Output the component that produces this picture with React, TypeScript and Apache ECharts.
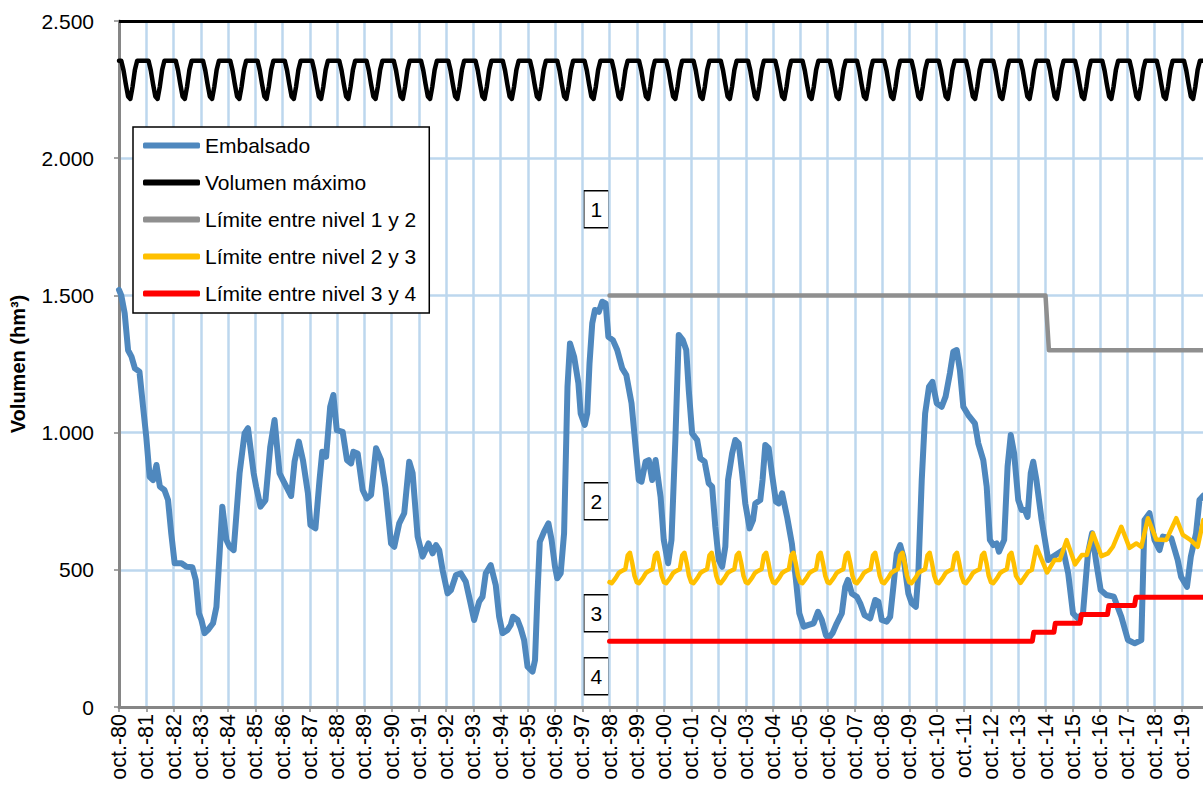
import React, { useEffect, useRef } from 'react';
import * as echarts from 'echarts';

const FONT = 'Arial, "Liberation Sans", sans-serif';

// ---------- DATA ----------
const seriesNames = [
  'Embalsado',
  'Volumen máximo',
  'Límite entre nivel 1 y 2',
  'Límite entre nivel 2 y 3',
  'Límite entre nivel 3 y 4',
];
const seriesColors = ['#4F88BE', '#000000', '#8F8F8F', '#FFC000', '#FF0000'];

// x = months since oct.-80
const totalMonths = 480;
const xTickLabels = [
  'oct.-80', 'oct.-81', 'oct.-82', 'oct.-83', 'oct.-84', 'oct.-85', 'oct.-86', 'oct.-87', 'oct.-88', 'oct.-89',
  'oct.-90', 'oct.-91', 'oct.-92', 'oct.-93', 'oct.-94', 'oct.-95', 'oct.-96', 'oct.-97', 'oct.-98', 'oct.-99',
  'oct.-00', 'oct.-01', 'oct.-02', 'oct.-03', 'oct.-04', 'oct.-05', 'oct.-06', 'oct.-07', 'oct.-08', 'oct.-09',
  'oct.-10', 'oct.-11', 'oct.-12', 'oct.-13', 'oct.-14', 'oct.-15', 'oct.-16', 'oct.-17', 'oct.-18', 'oct.-19',
];
const yTickLabels: Record<number, string> = { 0: '0', 500: '500', 1000: '1.000', 1500: '1.500', 2000: '2.000', 2500: '2.500' };
const yAxisTitle = 'Volumen (hm³)';

// Embalsado: [month index, hm3]
const embalsado: [number, number][] = [
  [0, 1520], [1, 1500], [2.5, 1435], [4, 1300], [5.5, 1277], [7, 1234], [9, 1222], [10.6, 1094], [12, 985],
  [13.5, 839], [15, 827], [16.5, 882], [18, 803], [20, 791], [21.6, 754], [23, 633], [24.5, 524], [27.5, 524],
  [29.7, 511], [32.3, 509], [33.8, 463], [35.2, 341], [36.3, 317], [37.7, 269], [39.2, 281], [41.4, 305],
  [42.9, 365], [44.3, 560], [45.5, 730], [47.3, 609], [48.7, 584], [50.5, 572], [53.1, 852], [55.3, 997],
  [56.8, 1016], [59.3, 852], [60.4, 803], [62.3, 730], [64.5, 754], [66.6, 948], [68.5, 1046], [70.7, 852],
  [72.2, 827], [74.4, 791], [75.8, 769], [77.3, 894], [79.2, 967], [81, 900], [83.2, 779], [84.3, 663],
  [86.5, 651], [88.3, 827], [89.5, 930], [91.2, 912], [93, 1094], [94.4, 1137], [95.9, 1009], [98.5, 1003],
  [100.4, 900], [102.2, 888], [103.2, 930], [105.1, 924], [107.3, 791], [109.1, 760], [111, 773], [113.2, 943],
  [115.4, 900], [117.3, 800], [119.8, 596], [121.2, 584], [123.4, 669], [125.6, 706], [127.8, 894], [129.3, 852],
  [131.5, 621], [133.7, 548], [136.3, 596], [138.1, 560], [139.6, 590], [141, 572], [142.5, 499], [144.7, 414],
  [146.2, 426], [148.4, 481], [150.5, 487], [152.7, 457], [154.5, 390], [156.4, 317], [158.6, 384], [160.1, 402],
  [161.5, 487], [163.7, 517], [165.9, 445], [167.4, 329], [168.9, 269], [171.1, 281], [172.5, 299], [173.5, 329],
  [175.5, 317], [176.9, 287], [178.4, 244], [179.9, 147], [182.1, 129], [183.2, 171], [184.3, 414], [185.3, 602],
  [187.2, 639], [189.1, 669], [190.5, 609], [192, 511], [193, 469], [194.5, 487], [196, 633], [197.5, 1167],
  [198.6, 1325], [200.4, 1277], [202.3, 1180], [203.3, 1070], [205.1, 1028], [206.2, 1070], [207.2, 1252],
  [208.4, 1398], [209.6, 1447], [211.3, 1440], [212.8, 1477], [214.3, 1471], [215.5, 1349], [217.5, 1337],
  [219.4, 1301], [221.6, 1234], [223.4, 1210], [225.7, 1107], [227.5, 948], [228.9, 827], [230.1, 821],
  [231.9, 894], [233.3, 900], [234.8, 827], [236.3, 900], [238.5, 766], [239.9, 609], [241.8, 524], [243.3, 609],
  [245, 973], [246.5, 1356], [248.3, 1337], [249.8, 1301], [250.9, 1155], [252.4, 997], [254.6, 973], [256, 906],
  [257.9, 894], [259.7, 815], [261.2, 803], [262.6, 657], [264.1, 536], [265.6, 511], [267, 584], [268.2, 827],
  [270, 924], [271.4, 973], [272.9, 961], [274.4, 852], [275.8, 742], [277.7, 651], [279.2, 681], [280.2, 742],
  [282.4, 754], [283.4, 827], [284.6, 955], [286.1, 943], [287.5, 852], [289.3, 748], [290.5, 742], [292, 779],
  [294.2, 693], [296.3, 596], [298.1, 463], [299.6, 341], [301.5, 293], [303.7, 299], [305.9, 305], [307.8, 347],
  [309.5, 317], [311.3, 262], [312.4, 250], [314.2, 269], [316.1, 305], [318.3, 341], [319.8, 438], [321, 463],
  [322.7, 414], [324.9, 402], [326.4, 378], [328.3, 335], [330.8, 323], [333, 390], [334.4, 384], [335.9, 317],
  [338.1, 311], [339.6, 329], [341, 438], [342.5, 560], [344, 590], [345.4, 548], [347.6, 414], [349.1, 378],
  [350.9, 365], [352, 487], [353.5, 827], [355, 1070], [356.7, 1167], [358.2, 1185], [360.1, 1107], [362.3, 1094],
  [364, 1131], [365.9, 1216], [367.4, 1295], [368.9, 1301], [370.3, 1228], [371.8, 1094], [374, 1064],
  [376.9, 1034], [378.4, 961], [380.6, 900], [382.1, 803], [383.5, 609], [385, 590], [386.5, 596], [387.5, 566],
  [389.8, 609], [391.3, 876], [392.7, 991], [394.2, 924], [396, 754], [397.5, 718], [398.9, 718], [400.1, 693],
  [401.5, 852], [402.6, 894], [404, 827], [406.3, 681], [409.2, 536], [411.4, 548], [413.6, 560], [415.8, 572],
  [418, 487], [420.1, 341], [422.3, 323], [424.5, 341], [426.7, 560], [428.5, 633], [430.4, 524], [432.3, 426],
  [434.8, 408], [438.1, 402], [441.4, 329], [444.3, 244], [447.3, 232], [450.2, 244], [451.6, 681], [453.8, 706],
  [456, 609], [458.2, 572], [459.7, 621], [463.4, 615], [466.2, 536], [467.7, 475], [470.3, 438], [472, 548],
  [474.3, 633], [475.8, 754], [477.5, 770],
];

// Volumen máximo: seasonal curve by month (oct..sep), repeated every hydrological year
const maxVolumePattern = [2355, 2355, 2320, 2270, 2225, 2216, 2262, 2322, 2355, 2355, 2355, 2355];

// Límite entre nivel 1 y 2
const limit12: [number, number][] = [[216, 1500], [408, 1500], [409.5, 1300], [480, 1300]];

// Límite entre nivel 2 y 3: seasonal curve (oct..sep) for oct.-98 .. sep.-13, then read points
const limit23Pattern = [455, 451, 462, 474, 488, 494, 498, 503, 552, 562, 525, 478];
const limit23PatternFrom = 216;
const limit23PatternTo = 396;
const limit23Late: [number, number][] = [
  [397, 452], [400.4, 493], [402, 500], [404, 584], [408.7, 490], [412, 536], [414.3, 536], [417.3, 608],
  [421, 520], [424, 554], [426.2, 554], [428.9, 633], [432.6, 550], [435.5, 560], [437.7, 584], [441.4, 657],
  [445, 580], [448, 596], [450.2, 584], [453.1, 688], [456.8, 610], [461.2, 609], [465.6, 688], [468.5, 627],
  [471.8, 609], [475, 584], [477.5, 681],
];

// Límite entre nivel 3 y 4
const limit34: [number, number][] = [
  [216, 240], [402.2, 240], [402.8, 272], [411.7, 272], [412.3, 305], [423.2, 305], [423.8, 337],
  [435.3, 337], [435.9, 370], [447.2, 370], [447.8, 400], [480, 400],
];

const levelLabels = ['1', '2', '3', '4'];

// ---------- LAYOUT ----------
const CHART_W = 1220;
const CHART_H = 785;
const GRID_LEFT = 117;
const GRID_TOP = 21;
const GRID_BOTTOM = 78;
const PLOT_W = 1092;
const levelBoxTops = [190, 482, 594, 657];
const levelBoxLeft = 583;

export default function App() {
  const ref = useRef<HTMLDivElement>(null);

  useEffect(() => {
    if (!ref.current) return;
    const chart = echarts.init(ref.current, undefined, { renderer: 'svg' });

    const maxVolume: [number, number][] = [];
    for (let m = 0; m < totalMonths; m++) maxVolume.push([m, maxVolumePattern[m % 12]]);

    const limit23: [number, number][] = [];
    for (let m = limit23PatternFrom; m < limit23PatternTo; m++) limit23.push([m, limit23Pattern[m % 12]]);
    limit23.push(...limit23Late);

    const gridColor = '#BDD7EE';
    const axisColor = '#868686';

    const lineSeries = (name: string, data: [number, number][], color: string, width: number, extra: any = {}) => ({
      name,
      type: 'line',
      data,
      symbol: 'none',
      color,
      itemStyle: { color },
      lineStyle: { color, width, join: 'round', cap: 'round' },
      silent: true,
      ...extra,
    });

    chart.setOption({
      animation: false,
      textStyle: { fontFamily: FONT },
      grid: {
        left: GRID_LEFT,
        top: GRID_TOP,
        bottom: GRID_BOTTOM,
        right: CHART_W - GRID_LEFT - PLOT_W,
        containLabel: false,
      },
      legend: {
        data: seriesNames,
        orient: 'vertical',
        left: 133,
        top: 127,
        backgroundColor: '#fff',
        borderColor: '#000',
        borderWidth: 1.5,
        padding: [8, 13, 9, 10],
        itemGap: 16,
        itemWidth: 57,
        itemHeight: 6,
        icon: 'roundRect',
        selectedMode: false,
        textStyle: { fontFamily: FONT, fontSize: 21, color: '#000' },
      },
      xAxis: {
        type: 'value',
        min: 0,
        max: totalMonths,
        interval: 12,
        axisLine: { show: true, onZero: false, lineStyle: { color: axisColor, width: 3 } },
        axisTick: { show: true, length: 5, lineStyle: { color: axisColor, width: 1.5 } },
        splitLine: { show: true, lineStyle: { color: gridColor, width: 2.5 } },
        axisLabel: {
          rotate: 90,
          margin: 7,
          fontFamily: FONT,
          fontSize: 21.5,
          color: '#000',
          formatter: (v: number) => xTickLabels[Math.round(v / 12)] ?? '',
        },
      },
      yAxis: {
        type: 'value',
        min: 0,
        max: 2500,
        interval: 500,
        name: yAxisTitle,
        nameLocation: 'middle',
        nameGap: 91,
        nameTextStyle: { fontFamily: FONT, fontSize: 20, fontWeight: 'bold', color: '#000' },
        axisLine: { show: true, lineStyle: { color: axisColor, width: 3 } },
        axisTick: { show: true, length: 5, lineStyle: { color: axisColor, width: 1.5 } },
        splitLine: { show: true, lineStyle: { color: gridColor, width: 2.5 } },
        axisLabel: {
          margin: 25,
          fontFamily: FONT,
          fontSize: 21,
          color: '#000',
          formatter: (v: number) => yTickLabels[v] ?? '',
        },
      },
      series: [
        lineSeries(seriesNames[0], embalsado, seriesColors[0], 6),
        lineSeries(seriesNames[1], maxVolume, seriesColors[1], 4.5, {
          markLine: {
            silent: true,
            symbol: ['none', 'none'],
            label: { show: false },
            lineStyle: { color: '#000', width: 3, type: 'solid' },
            data: [{ yAxis: 2500 }],
          },
        }),
        lineSeries(seriesNames[2], limit12, seriesColors[2], 4.5),
        lineSeries(seriesNames[3], limit23, seriesColors[3], 4.5),
        lineSeries(seriesNames[4], limit34, seriesColors[4], 5),
      ],
      graphic: levelLabels.map((t, i) => ({
        type: 'group',
        left: levelBoxLeft,
        top: levelBoxTops[i],
        children: [
          { type: 'rect', shape: { x: 0, y: 0, width: 25, height: 37 }, style: { fill: '#fff', stroke: '#000', lineWidth: 1.5 } },
          {
            type: 'text',
            x: 12.5,
            y: 19,
            style: { text: t, fill: '#000', font: `21px ${FONT}`, align: 'center', verticalAlign: 'middle' },
          },
        ],
      })),
    });

    return () => chart.dispose();
  }, []);

  return (
    <div style={{ position: 'fixed', left: 0, top: 0, width: 1203, height: 785, overflow: 'hidden', background: '#fff' }}>
      <div ref={ref} style={{ width: CHART_W, height: CHART_H }} />
    </div>
  );
}
